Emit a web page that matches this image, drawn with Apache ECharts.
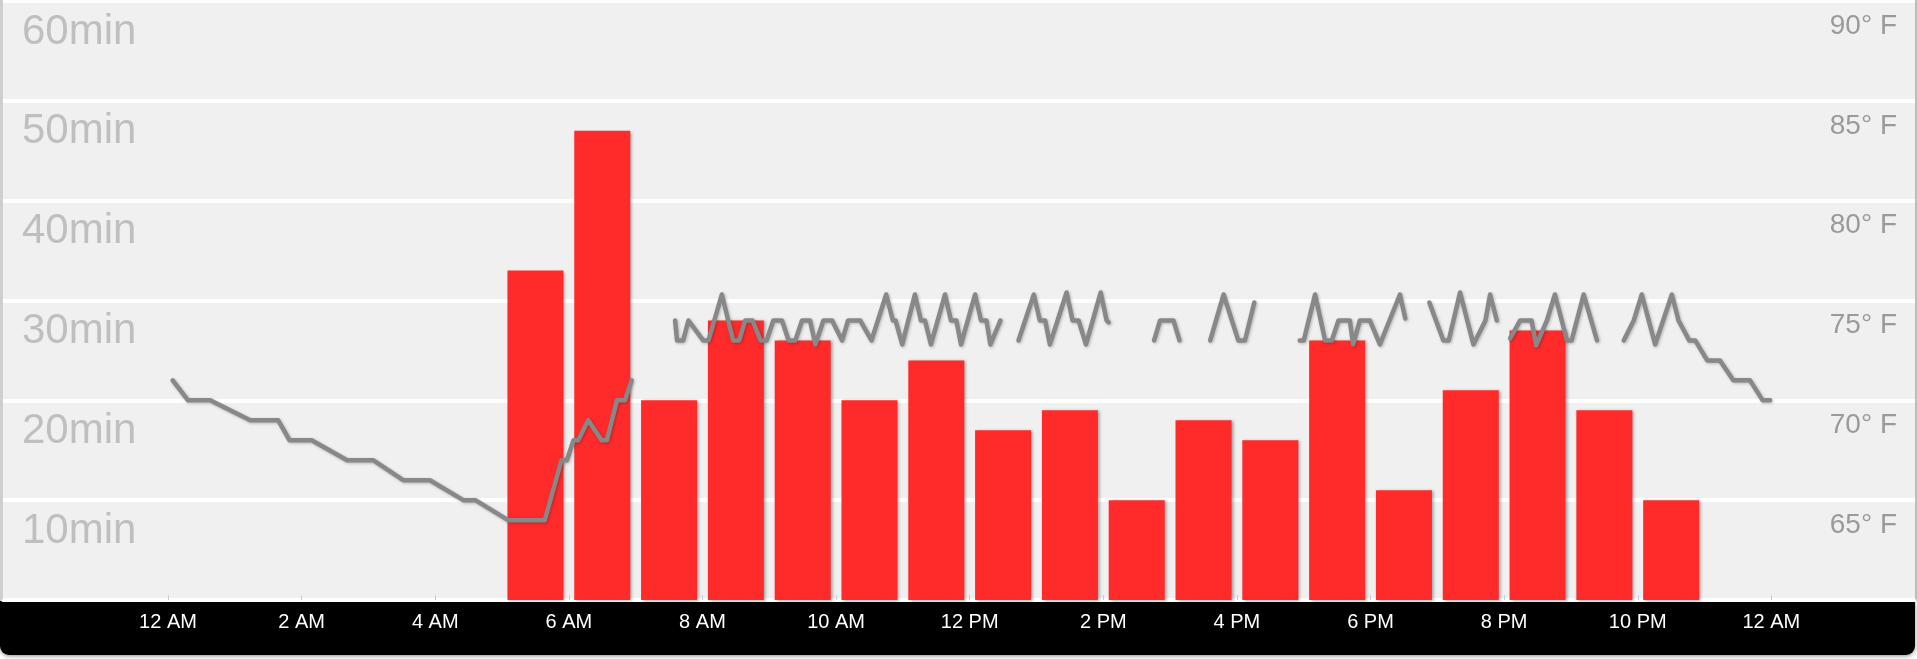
<!DOCTYPE html>
<html>
<head>
<meta charset="utf-8">
<script src="https://cdn.jsdelivr.net/npm/echarts@6/dist/echarts.min.js"></script>
<style>
html,body{margin:0;padding:0;background:#ffffff;}
#chart{width:1917px;height:659px;}
</style>
</head>
<body>
<div id="chart"></div>
<script>
// ---- data ----
const barHours = [5.5,6.5,7.5,8.5,9.5,10.5,11.5,12.5,13.5,14.5,15.5,16.5,17.5,18.5,19.5,20.5,21.5,22.5];
const barMinutes = [33,47,20,28,26,20,24,17,19,10,18,16,26,11,21,27,19,10];

const tempTimes = [
  0.07,0.30,0.63,1.23,1.65,1.82,2.15,2.68,3.07,3.52,3.92,4.42,4.60,5.09,5.64,5.89,5.97,6.07,6.14,6.29,6.49,6.57,6.72,6.84,6.94,
  7.25,
  7.59,7.62,7.71,7.79,8.01,8.09,8.29,8.46,8.55,8.64,8.75,8.87,8.96,9.06,9.19,9.29,9.39,9.49,9.61,9.69,9.81,9.94,10.09,10.18,10.36,10.53,10.75,10.85,10.89,10.99,11.18,11.27,11.33,11.42,11.63,11.72,11.80,11.87,12.08,12.17,12.25,12.31,12.46,
  12.6,
  12.73,12.96,13.05,13.13,13.20,13.45,13.54,13.63,13.74,13.96,14.05,14.08,
  14.4,
  14.76,14.85,15.05,15.14,
  15.4,
  15.60,15.80,16.02,16.12,16.26,
  16.6,
  16.94,17.00,17.17,17.32,17.42,17.52,17.69,17.74,17.84,17.99,18.14,18.44,18.52,
  18.7,
  18.88,19.09,19.17,19.34,19.54,19.72,19.79,19.89,
  20.0,
  20.09,20.24,20.41,20.48,20.64,20.76,20.94,21.01,21.19,21.39,
  21.6,
  21.79,21.94,22.06,22.26,22.38,22.51,22.61,22.77,22.86,23.04,23.23,23.43,23.68,23.87,23.98
];
const tempValues = [
  71,70,70,69,69,68,68,67,67,66,66,65,65,64,64,67,67,68,68,69,68,68,70,70,71,
  null,
  74,73,73,74,73,73,75.3,73,73,74,74,73,73,74,74,73,73,74,74,72.8,74,74,73,74,74,73,75.3,74,74,72.8,75.3,74,74,72.8,75.3,74,74,72.8,75.3,74,74,72.8,74,
  null,
  73,75.3,74,74,72.8,75.4,74,74,72.8,75.4,74,73.9,
  null,
  73,74,74,73,
  null,
  73,75.3,73,73,74.9,
  null,
  73,73,75.3,73,73,74,74,72.8,74,74,72.8,75.3,74.1,
  null,
  74.9,73,73,75.4,72.8,74,75.3,74,
  null,
  73.1,74,74,72.75,74,75.3,73,73,75.3,73,
  null,
  73,74,75.3,72.8,74,75.3,74,73,73,72,72,71,71,70,70
];

const hourTicks = [0,2,4,6,8,10,12,14,16,18,20,22,24];
const hourTickLabels = ['12 AM','2 AM','4 AM','6 AM','8 AM','10 AM','12 PM','2 PM','4 PM','6 PM','8 PM','10 PM','12 AM'];
const minuteUnit = 'min';
const tempUnit = '° F';

// ---- chart ----
const chart = echarts.init(document.getElementById('chart'), null, {renderer: 'canvas'});
const FONT = 'Liberation Sans, Arial, sans-serif';

const option = {
  animation: false,
  grid: {left: 3, right: 2, top: 1, bottom: 59, show: true, backgroundColor: '#f0f0f0', borderWidth: 0},
  graphic: [
    {type: 'rect', z: -10, silent: true, left: 0, top: 601,
     shape: {width: 1915, height: 54, r: [0, 0, 9, 9]},
     style: {fill: '#000000', shadowBlur: 4, shadowColor: 'rgba(0,0,0,0.45)', shadowOffsetY: 1}},
    {type: 'rect', z: -10, silent: true, left: 0, top: 0,
     shape: {width: 3, height: 601}, style: {fill: '#cfcfcf'}},
    {type: 'rect', z: -10, silent: true, left: 1915, top: 0,
     shape: {width: 2, height: 601}, style: {fill: '#bdbdbd'}}
  ],
  xAxis: {
    type: 'value', min: -2.47, max: 26.15,
    axisLine: {show: true, onZero: false, lineStyle: {color: '#ffffff', width: 3}},
    axisTick: {show: true, customValues: hourTicks, inside: true, length: 5, lineStyle: {color: '#c0d0e0', width: 1}},
    axisLabel: {
      customValues: hourTicks,
      formatter: function (v) { const i = hourTicks.indexOf(v); return i >= 0 ? hourTickLabels[i] : ''; },
      color: '#ffffff', fontSize: 20, fontFamily: FONT, margin: 12
    },
    splitLine: {show: false}
  },
  yAxis: [
    {
      type: 'value', min: 0, max: 60, interval: 10, position: 'left',
      axisLine: {show: false}, axisTick: {show: false},
      splitLine: {show: true, lineStyle: {color: '#ffffff', width: 4}},
      axisLabel: {
        inside: true, showMinLabel: false, margin: 19, verticalAlign: 'top',
        formatter: function (v) { return v + minuteUnit; },
        color: '#bfbfbf', fontSize: 42, fontFamily: FONT, padding: [10, 0, 0, 0]
      }
    },
    {
      type: 'value', min: 60, max: 90, interval: 5, position: 'right',
      axisLine: {show: false}, axisTick: {show: false},
      splitLine: {show: false},
      axisLabel: {
        inside: true, showMinLabel: false, margin: 18, verticalAlign: 'top',
        formatter: function (v) { return v + tempUnit; },
        color: '#9a9a9a', fontSize: 28, fontFamily: FONT, padding: [11, 0, 0, 0]
      }
    }
  ],
  series: [
    {
      type: 'bar', yAxisIndex: 0, barWidth: 56,
      data: barHours.map(function (h, i) { return [h, barMinutes[i]]; }),
      itemStyle: {color: '#ff2b2b', shadowColor: 'rgba(0,0,0,0.35)', shadowBlur: 3, shadowOffsetX: 2, shadowOffsetY: 1}
    },
    {
      type: 'line', yAxisIndex: 1, z: 3,
      symbol: 'none', showSymbol: false, connectNulls: false,
      data: tempTimes.map(function (t, i) { return [t, tempValues[i]]; }),
      lineStyle: {color: '#888888', width: 4.5, join: 'round', cap: 'round',
                  shadowColor: 'rgba(0,0,0,0.25)', shadowBlur: 3, shadowOffsetX: 1, shadowOffsetY: 1}
    }
  ]
};
chart.setOption(option);
</script>
</body>
</html>
